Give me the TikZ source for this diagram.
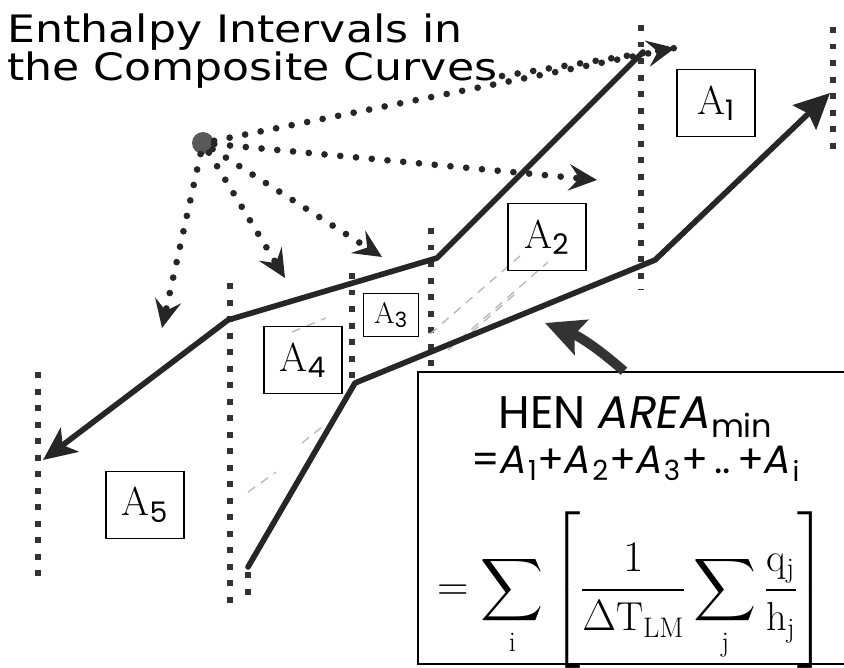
\documentclass[tikz,border=0pt]{standalone}
\usepackage{fontspec}
\usepackage{amsmath}
\usetikzlibrary{arrows.meta}
\newfontfamily\comicfont[FakeStretch=1.17]{DejaVu Sans}
\newfontfamily\gothic{Poppins}

\tikzset{
  curve/.style={line width=3.2pt, draw=black!85, line cap=round, line join=round},
  interval/.style={line width=3.4pt, draw=black!80, dash pattern=on 3.4pt off 6pt},
  pointer/.style={line width=3.8pt, draw=black!85, line cap=round, dash pattern=on 0pt off 9pt},
  areabox/.style={draw, line width=0.9pt, minimum width=1.56cm, minimum height=1.34cm,
    inner sep=0pt, font=\fontsize{23}{23}\selectfont},
  hatch/.style={draw=gray!55, line width=0.8pt, dash pattern=on 5pt off 4pt},
}

\begin{document}
\begin{tikzpicture}[x=0.02cm, y=-0.02cm]
\useasboundingbox (0,0) rectangle (844,667);

% Title
\node[anchor=north west, inner sep=0pt, align=left, font=\comicfont\fontsize{21.5}{18.7}\selectfont] (title) at (7,13)
  {Enthalpy Intervals in\\the Composite Curves};
\coordinate (titleend) at (502,76);

% Interval boundaries
\foreach \x/\ya/\yb in {38/372/583, 230/283/607, 248/572/598, 352/273/385,
                        431/228/370, 641/25/290, 833/27/153}
  \draw[interval] (\x,\ya) -- (\x,\yb);

% Shading between the curves
\draw[hatch] (448,350) -- (548,262);
\draw[hatch] (430,334) -- (520,256);
\draw[hatch] (472,332) -- (515,294);
\draw[hatch] (302,443) -- (322,427);
\draw[hatch] (248,492) -- (276,472);
\draw[hatch] (292,332) -- (326,318);

% Composite curves
\coordinate (hot1) at (643,52);
\coordinate (hot2) at (437,258);
\coordinate (hot3) at (228,320);
\coordinate (hot4) at (43,460);
\coordinate (cold1) at (248,567);
\coordinate (cold2) at (355,383);
\coordinate (cold3) at (655,260);
\coordinate (cold4) at (830,93);
\draw[curve, -{Stealth[length=19pt, width=17pt, inset=5pt]}] (hot1) -- (hot2) -- (hot3) -- (hot4);
\draw[curve, -{Stealth[length=20pt, width=19pt, inset=3pt]}] (cold1) -- (cold2) -- (cold3) -- (cold4);

% Area boxes
\node[areabox, fill=white] (a1) at (716,103) {A\textsubscript{\gothic 1}};
\node[areabox] (a2) at (547,237) {A\textsubscript{\gothic 2}};
\node[areabox, minimum width=1.1cm, minimum height=0.86cm, font=\fontsize{17}{17}\selectfont] (a3) at (391,315) {A\textsubscript{\gothic 3}};
\node[areabox] (a4) at (303,360) {A\textsubscript{\gothic 4}};
\node[areabox] (a5) at (145,505) {A\textsubscript{\gothic 5}};

% Pointers from the source
\node[circle, fill=black!65, minimum size=0.44cm, inner sep=0pt] (src) at (203,143) {};
\coordinate (t1) at (675,48);
\coordinate (t2) at (597,180);
\coordinate (t3) at (382,257);
\coordinate (t4) at (285,278);
\coordinate (t5) at (162,328);
\foreach \t in {t1,t2,t3,t4,t5}
  \draw[pointer, -{Stealth[length=16pt, width=15pt, inset=6pt]}] (src) -- (\t);
\draw[pointer] (titleend) -- (t1);

% Formula box
\node[draw, line width=1pt, minimum width=8.6cm, minimum height=5.84cm, inner sep=0pt] (henbox) at (633,518) {};
\node[anchor=base, inner sep=0pt, font=\gothic\fontsize{26}{26}\selectfont] (hen) at (636,428)
  {HEN {\itshape AREA}\textsubscript{min}};
\node[anchor=base, inner sep=0pt, font=\gothic\fontsize{22.5}{22.5}\selectfont] (sumA) at (636,473)
  {=\textit{A}\kern0.6pt\textsubscript{1}+\textit{A}\kern0.6pt\textsubscript{2}+\textit{A}\kern0.6pt\textsubscript{3}+\,..\,+\textit{A}\kern0.6pt\textsubscript{i}};
\node[inner sep=0pt, font=\fontsize{23}{28}\selectfont] (sumeq) at (632,590)
  {$\displaystyle =\sum_{\mathrm{i}}\left[\frac{1}{\Delta\mathrm{T}_{\mathrm{LM}}}\sum_{\mathrm{j}}\frac{\mathrm{q}_{\mathrm{j}}}{\mathrm{h}_{\mathrm{j}}}\right]$};

\coordinate (fattip) at (545,323);
\draw[line width=5.5pt, draw=black!80, -{Stealth[length=22pt, width=21pt, inset=4pt]}]
  ([xshift=-0.18cm]henbox.north) to[bend right=10] (fattip);

\end{tikzpicture}
\end{document}
